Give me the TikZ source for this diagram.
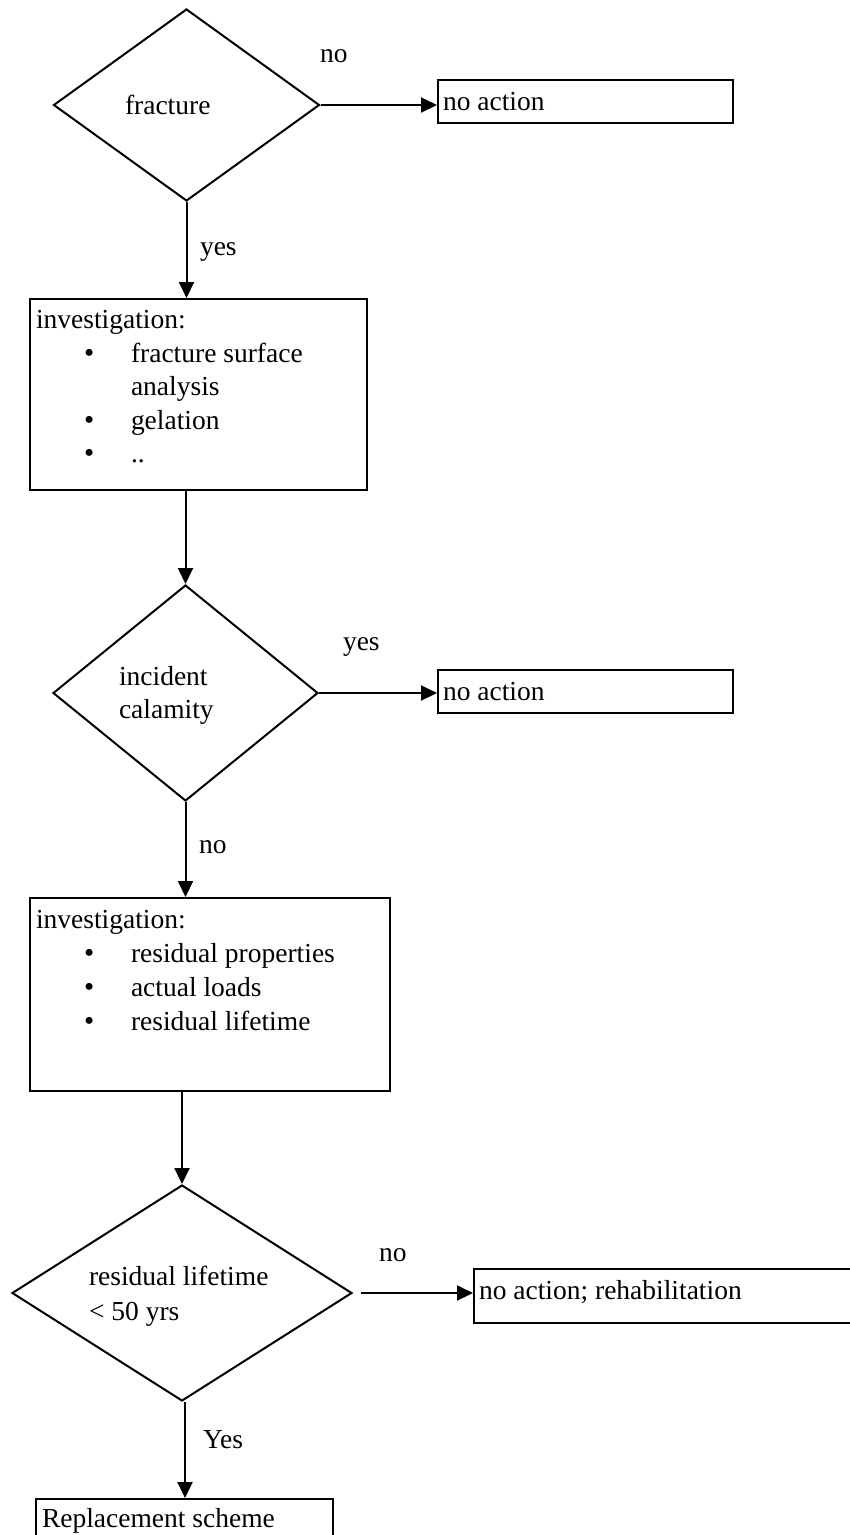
\documentclass[tikz,border=0pt]{standalone}
\usepackage{fontspec}
\setmainfont{Liberation Serif}
\usetikzlibrary{shapes.geometric,arrows.meta}
\newcommand{\itm}{\makebox[47pt][l]{\fontsize{29}{33}\selectfont\textbullet}}
\begin{document}
\begin{tikzpicture}[x=1pt,y=-1pt,
    font=\fontsize{27.5}{33}\selectfont,
    line width=2pt,
    decision/.style={draw,diamond,inner sep=0pt},
    box/.style={draw,rectangle,anchor=north west,inner sep=0pt},
    txt/.style={anchor=base west,inner sep=0pt},
    arr/.style={-{Triangle[length=16pt,width=15pt]}}]
    \useasboundingbox (0,0) rectangle (850,1535);

    % Decisions
    \node[decision,minimum width=266pt,minimum height=192pt] (frac) at (186.5,105) {};
    \node[decision,minimum width=265pt,minimum height=216pt] (calam) at (185.5,693) {};
    \node[decision,minimum width=340pt,minimum height=216pt] (life) at (182,1293) {};

    % Boxes
    \node[box,minimum width=295pt,minimum height=43pt] (na1) at (437,79) {};
    \node[box,minimum width=337pt,minimum height=191pt] (inv1) at (29,298) {};
    \node[box,minimum width=295pt,minimum height=43pt] (na2) at (437,669) {};
    \node[box,minimum width=360pt,minimum height=193pt] (inv2) at (29,897) {};
    \node[box,minimum width=400pt,minimum height=54pt] (rehab) at (473,1268) {};
    \node[box,minimum width=297pt,minimum height=60pt] (repl) at (35,1498) {};

    % Texts
        % fracture
        \node[txt] (frac-t) at (124,114) {fracture};
        \node[txt] (frac-no) at (319,62) {no};
        \node[txt] (frac-yes) at (199,255) {yes};
        \node[txt] (na1-t) at (442,110) {no action};
        % first investigation
        \node[txt] (inv1-t) at (35,328) {investigation:};
        \node[txt] (inv1-a) at (83,362) {\itm fracture surface};
        \node[txt] (inv1-b) at (130,395) {analysis};
        \node[txt] (inv1-c) at (83,429) {\itm gelation};
        \node[txt] (inv1-d) at (83,462) {\itm ..};
        % incident calamity
        \node[txt] (calam-t1) at (118,685) {incident};
        \node[txt] (calam-t2) at (118,718) {calamity};
        \node[txt] (calam-yes) at (342,650) {yes};
        \node[txt] (calam-no) at (198,853) {no};
        \node[txt] (na2-t) at (442,700) {no action};
        % second investigation
        \node[txt] (inv2-t) at (35,928) {investigation:};
        \node[txt] (inv2-a) at (83,962) {\itm residual properties};
        \node[txt] (inv2-b) at (83,996) {\itm actual loads};
        \node[txt] (inv2-c) at (83,1030) {\itm residual lifetime};
        % residual lifetime
        \node[txt] (life-t1) at (88,1285) {residual lifetime};
        \node[txt] (life-t2) at (88,1320) {< 50 yrs};
        \node[txt] (life-no) at (378,1261) {no};
        \node[txt] (life-yes) at (202,1448) {Yes};
        \node[txt] (rehab-t) at (478,1299) {no action; rehabilitation};
        \node[txt] (repl-t) at (41,1527) {Replacement scheme};

    % Arrows
    \draw[arr] (frac.east) -- (frac.east -| na1.west);
    \draw[arr] (frac.south) -- (frac.south |- inv1.north);
    \draw[arr] (calam.north |- inv1.south) -- (calam.north);
    \draw[arr] (calam.east) -- (calam.east -| na2.west);
    \draw[arr] (calam.south) -- (calam.south |- inv2.north);
    \draw[arr] (life.north |- inv2.south) -- (life.north);
    \draw[arr] ([xshift=8pt]life.east) -- (life.east -| rehab.west);
    \draw[arr] ([xshift=3pt]life.south) -- ([xshift=3pt]life.south |- repl.north);
\end{tikzpicture}
\end{document}
